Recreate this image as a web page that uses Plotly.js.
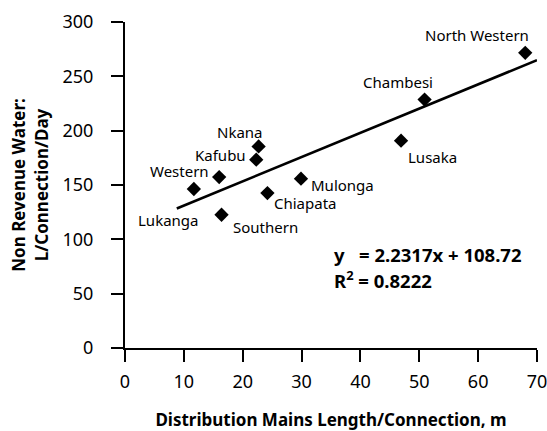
<!DOCTYPE html>
<html>
<head>
<meta charset="utf-8">
<script src="https://cdn.plot.ly/plotly-3.0.1.min.js"></script>
<style>html,body{margin:0;padding:0;background:#fff;}#chart{width:547px;height:431px;}</style>
</head>
<body>
<div id="chart"></div>
<script>
// ---- data ----
const regions = ['Lukanga', 'Western', 'Southern', 'Kafubu', 'Nkana', 'Chiapata', 'Mulonga', 'Lusaka', 'Chambesi', 'North Western'];
const mainsLength = [11.7, 16.0, 16.4, 22.3, 22.7, 24.2, 29.9, 46.9, 50.9, 68.0];
const nrwPerConn = [146.3, 157.3, 122.6, 173.3, 185.5, 142.6, 155.8, 190.8, 228.6, 271.6];
const trendX = [8.8, 70];
const trendY = [128.4, 264.9];
const equationText = 'y&nbsp;&nbsp;&nbsp;= 2.2317x + 108.72';
const r2Text = 'R<sup>2</sup> = 0.8222';
const xTitle = 'Distribution Mains Length/Connection, m';
const yTitle = 'Non Revenue Water:<br>L/Connection/Day';

// ---- label placement (pixel offsets, style only) ----
const labelShiftX = [-26, -40, 44, -36, -19, 38, 42, 31, -27, -48];
const labelShiftY = [-31, 6, -12, 5, 14, -10, -6, -16, 18, 18];

const FONT = 'Noto Sans, Open Sans, sans-serif';

const traces = [
  {
    type: 'scatter', mode: 'lines', x: trendX, y: trendY,
    line: {color: '#000', width: 2.6}, hoverinfo: 'skip', showlegend: false
  },
  {
    type: 'scatter', mode: 'markers', x: mainsLength, y: nrwPerConn, text: regions,
    marker: {symbol: 'diamond', size: 11, color: '#000'}, showlegend: false
  }
];

const annotations = regions.map((r, i) => ({
  x: mainsLength[i], y: nrwPerConn[i], xref: 'x', yref: 'y', text: r,
  showarrow: false, xanchor: 'center', yanchor: 'middle',
  xshift: labelShiftX[i], yshift: labelShiftY[i],
  font: {family: FONT, size: 15, color: '#000'}
}));
annotations.push({
  x: 35.2, y: 85.7, xref: 'x', yref: 'y', text: '<b>' + equationText + '</b>',
  showarrow: false, xanchor: 'left', yanchor: 'middle',
  font: {family: FONT, size: 18.5, color: '#000'}
});
annotations.push({
  x: 35.2, y: 62.7, xref: 'x', yref: 'y', text: '<b>' + r2Text + '</b>',
  showarrow: false, xanchor: 'left', yanchor: 'middle',
  font: {family: FONT, size: 18.5, color: '#000'}
});

const layout = {
  width: 547, height: 431,
  margin: {l: 125, r: 10, t: 22, b: 83, pad: 0},
  paper_bgcolor: '#fff', plot_bgcolor: '#fff',
  font: {family: FONT, color: '#000'},
  showlegend: false,
  xaxis: {
    range: [0, 70], dtick: 10, tick0: 0,
    showgrid: false, zeroline: false,
    showline: true, linecolor: '#000', linewidth: 2,
    ticks: 'outside', ticklen: 12, tickwidth: 2, tickcolor: '#000',
    tickfont: {family: FONT, size: 18, color: '#000'},
    ticklabelstandoff: 4, ticklabeloverflow: 'allow',
    title: {text: '<b>' + xTitle + '</b>', font: {family: FONT, size: 17, color: '#000'}, standoff: 23},
    automargin: false
  },
  yaxis: {
    range: [0, 300], dtick: 50, tick0: 0,
    showgrid: false, zeroline: false,
    showline: true, linecolor: '#000', linewidth: 2,
    ticks: 'outside', ticklen: 12, tickwidth: 2, tickcolor: '#000',
    tickfont: {family: FONT, size: 18, color: '#000'},
    ticklabelstandoff: 14, ticklabeloverflow: 'allow',
    title: {text: '<b>' + yTitle + '</b>', font: {family: FONT, size: 17, color: '#000'}, standoff: 10},
    automargin: false
  },
  annotations: annotations
};

Plotly.newPlot('chart', traces, layout, {staticPlot: true, displayModeBar: false});
</script>
</body>
</html>
